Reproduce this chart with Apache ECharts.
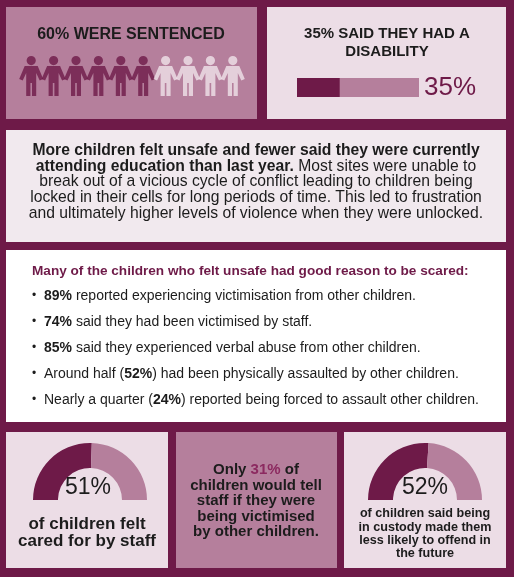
<!DOCTYPE html>
<html><head><meta charset="utf-8">
<script src="https://cdn.jsdelivr.net/npm/echarts@6/dist/echarts.min.js"></script>
<style>html,body{margin:0;padding:0;background:#6e1a48}#c{width:514px;height:577px}</style>
</head><body><div id="c"></div>
<script>
const sentencedPct = 60;
const peopleCount = 10;
const disabilityPct = 35;
const caredForPct = 51;
const wouldTellPct = 31;
const lessLikelyPct = 52;
const bulletPcts = ['89%','74%','85%','52%','24%'];

const DARK = '#6e1a48', MID = '#b57f9c', LIGHT = '#ecdde6', PALE = '#f1e9ee', TXT = '#1c1c1c';
const F = '"Liberation Sans", Arial, sans-serif';
const person = 'path://M11,0a4.6,4.6 0 1,0 0.01,0Z M4.5,10L17.5,10L23,23L19.5,24.5L16,17L16,40L11.8,40L11.8,27L10.2,27L10.2,40L6,40L6,17L2.5,24.5L-1,23Z';

const people = [];
for (let i = 0; i < peopleCount; i++) people.push({value: [i, 0], itemStyle: {color: i < sentencedPct / 10 ? DARK : '#f0e4ea'}});

function gauge(cx, v) {
  return {type: 'pie', center: [cx, 500], radius: [32, 57], startAngle: 180, silent: true, label: {show: false},
    data: [{value: v, itemStyle: {color: DARK}}, {value: 100 - v, itemStyle: {color: MID}}, {value: 100, itemStyle: {color: 'transparent'}}]};
}
function t(x, y, text, o) { return {type: 'text', x, y, z: 10, style: Object.assign({text, font: 'bold 15px ' + F, fill: TXT, textAlign: 'center', textVerticalAlign: 'middle'}, o || {})}; }
function r(x, y, w, h, fill) { return {type: 'rect', shape: {x, y, width: w, height: h}, style: {fill}, z: 0}; }

const bulletLines = [
  ['', bulletPcts[0], ' reported experiencing victimisation from other children.'],
  ['', bulletPcts[1], ' said they had been victimised by staff.'],
  ['', bulletPcts[2], ' said they experienced verbal abuse from other children.'],
  ['Around half (', bulletPcts[3], ') had been physically assaulted by other children.'],
  ['Nearly a quarter (', bulletPcts[4], ') reported being forced to assault other children.']
];
const graphics = [
  r(6, 7, 251, 112, MID), r(267, 7, 239, 112, LIGHT), r(6, 130, 500, 112, PALE), r(6, 250, 500, 172, '#ffffff'),
  r(6, 432, 162, 136, LIGHT), r(176, 432, 161, 136, MID), r(344, 432, 162, 136, LIGHT),
  t(131, 35, sentencedPct + '% WERE SENTENCED', {font: '900 16px ' + F}),
  t(387, 34, disabilityPct + '% SAID THEY HAD A', {font: '900 15px ' + F}),
  t(387, 52, 'DISABILITY', {font: '900 15px ' + F}),
  t(450, 88, disabilityPct + '%', {font: '26px ' + F, fill: DARK}),
  {type: 'text', x: 256, y: 182, z: 10, style: {
    text: '{b|More children felt unsafe and fewer said they were currently}\n{b|attending education than last year.} Most sites were unable to\nbreak out of a vicious cycle of conflict leading to children being\nlocked in their cells for long periods of time. This led to frustration\nand ultimately higher levels of violence when they were unlocked.',
    font: '15.7px ' + F, fill: TXT, textAlign: 'center', textVerticalAlign: 'middle', lineHeight: 15.7,
    rich: {b: {font: 'bold 15.7px ' + F, fill: TXT, lineHeight: 15.7}}}},
  t(32, 271, 'Many of the children who felt unsafe had good reason to be scared:', {font: 'bold 13.6px ' + F, fill: '#6e1a48', textAlign: 'left'}),
  t(88, 488, caredForPct + '%', {font: '23px ' + F}),
  t(87, 524, 'of children felt', {font: 'bold 17px ' + F}),
  t(87, 541, 'cared for by staff', {font: 'bold 17px ' + F}),
  t(425, 488, lessLikelyPct + '%', {font: '23px ' + F}),
  t(425, 514, 'of children said being', {font: 'bold 12.6px ' + F}),
  t(425, 528, 'in custody made them', {font: 'bold 12.6px ' + F}),
  t(425, 541, 'less likely to offend in', {font: 'bold 12.6px ' + F}),
  t(425, 554, 'the future', {font: 'bold 12.6px ' + F}),
  {type: 'text', x: 256, y: 501, z: 10, style: {
    text: 'Only {p|' + wouldTellPct + '%} of\nchildren would tell\nstaff if they were\nbeing victimised\nby other children.',
    font: 'bold 15px ' + F, fill: TXT, textAlign: 'center', textVerticalAlign: 'middle', lineHeight: 15.5,
    rich: {p: {font: 'bold 15px ' + F, fill: '#8c2a60', lineHeight: 15.5}}}}
];
bulletLines.forEach((b, i) => {
  const y = 296 + i * 26;
  graphics.push(t(34, y, '•', {font: '12px ' + F, textAlign: 'center'}));
  graphics.push({type: 'text', x: 44, y, z: 10, style: {text: b[0] + '{b|' + b[1] + '}' + b[2], font: '14px ' + F, fill: TXT, textVerticalAlign: 'middle', rich: {b: {font: 'bold 14px ' + F, fill: TXT}}}});
});

const chart = echarts.init(document.getElementById('c'));
chart.setOption({
  animation: false,
  graphic: {elements: graphics},
  grid: [{left: 20, top: 56, width: 224, height: 40}, {left: 297, top: 78, width: 122, height: 19}],
  xAxis: [{type: 'category', gridIndex: 0, data: people.map((p, i) => i), show: false, boundaryGap: true},
          {type: 'value', gridIndex: 1, min: 0, max: 100, show: false}],
  yAxis: [{type: 'value', gridIndex: 0, show: false, min: -1, max: 1},
          {type: 'category', gridIndex: 1, data: ['d'], show: false}],
  series: [
    {type: 'scatter', xAxisIndex: 0, yAxisIndex: 0, symbol: person, symbolSize: [24, 40], data: people, silent: true, z: 5},
    {type: 'bar', xAxisIndex: 1, yAxisIndex: 1, data: [disabilityPct], barWidth: 19, itemStyle: {color: DARK}, showBackground: true, backgroundStyle: {color: MID}, silent: true, z: 5},
    gauge(90, caredForPct), gauge(425, lessLikelyPct)
  ]
});
</script></body></html>
